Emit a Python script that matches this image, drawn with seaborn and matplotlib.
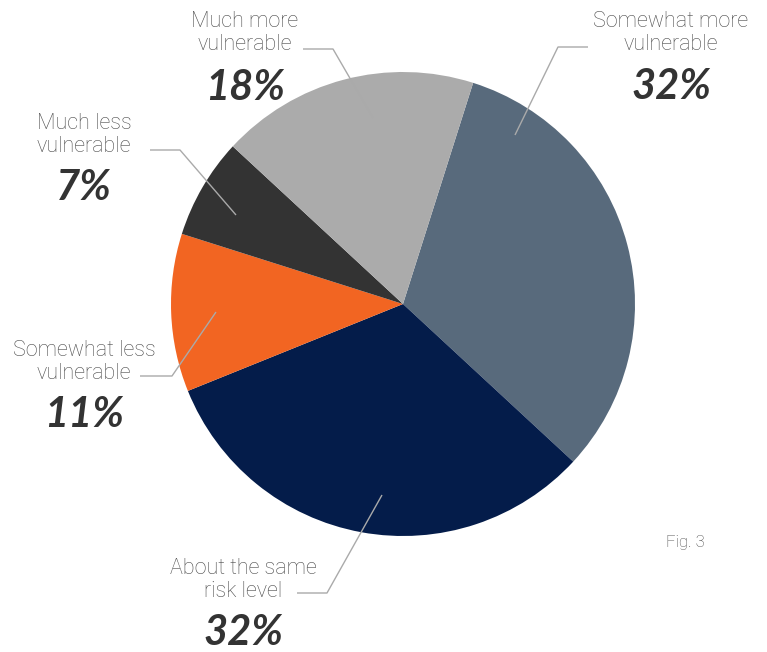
import matplotlib
matplotlib.use("Agg")
import matplotlib.pyplot as plt
import seaborn as sns

sns.set_theme(style="white")
plt.rcParams["font.family"] = ["Lato", "DejaVu Sans"]
LABEL_FONT = ["Roboto", "DejaVu Sans"]

# Survey answers, drawn clockwise from the top
categories = ["Somewhat more\nvulnerable", "About the same\nrisk level",
              "Somewhat less\nvulnerable", "Much less\nvulnerable",
              "Much more\nvulnerable"]
shares = [32, 32, 11, 7, 18]
colors = ["#586A7C", "#041C4A", "#F26522", "#333333", "#ABABAB"]

W, H = 767, 652
fig = plt.figure(figsize=(W / 100, H / 100), dpi=100)
ax = fig.add_axes([0, 0, 1, 1])
ax.set_xlim(0, W)
ax.set_ylim(0, H)
ax.set_aspect("equal")
ax.axis("off")

def Y(y):
    return H - y

ax.pie(shares, colors=colors, startangle=72.4, counterclock=False,
       center=(403, Y(304)), radius=232,
       wedgeprops=dict(linewidth=0))
ax.set_xlim(0, W)
ax.set_ylim(0, H)

# label anchor (centre x, centre y of name block, y of percentage)
label_pos = [(671, 33, 87), (243, 580, 633), (84, 362, 415),
             (84, 135, 188), (245, 33, 88)]
# leader lines: text end -> elbow -> point in wedge
leaders = [
    [(588, 47), (558, 47), (515, 135)],
    [(297, 593), (327, 593), (382, 495)],
    [(140, 376), (172, 376), (216, 312)],
    [(150, 150), (180, 150), (236, 215)],
    [(303, 49), (333, 49), (373, 118)],
]

for name, val, (cx, cy, py), pts in zip(categories, shares, label_pos, leaders):
    ax.text(cx, Y(cy), name, ha="center", va="center", fontsize=15.5,
            family=LABEL_FONT, fontweight="light", color="#4A4A4A",
            linespacing=1.15)
    ax.text(cx, Y(py), f"{val}%", ha="center", va="center", fontsize=30,
            fontweight="bold", fontstyle="italic", color="#333333")
    xs = [p[0] for p in pts]
    ys = [Y(p[1]) for p in pts]
    ax.plot(xs, ys, color="#AAAAAA", linewidth=1.0, solid_capstyle="butt")

ax.text(685, Y(543), "Fig. 3", ha="center", va="center", fontsize=12,
        family=LABEL_FONT, fontweight="light", color="#4A4A4A")

fig.savefig("out.png", dpi=100, facecolor="white")
